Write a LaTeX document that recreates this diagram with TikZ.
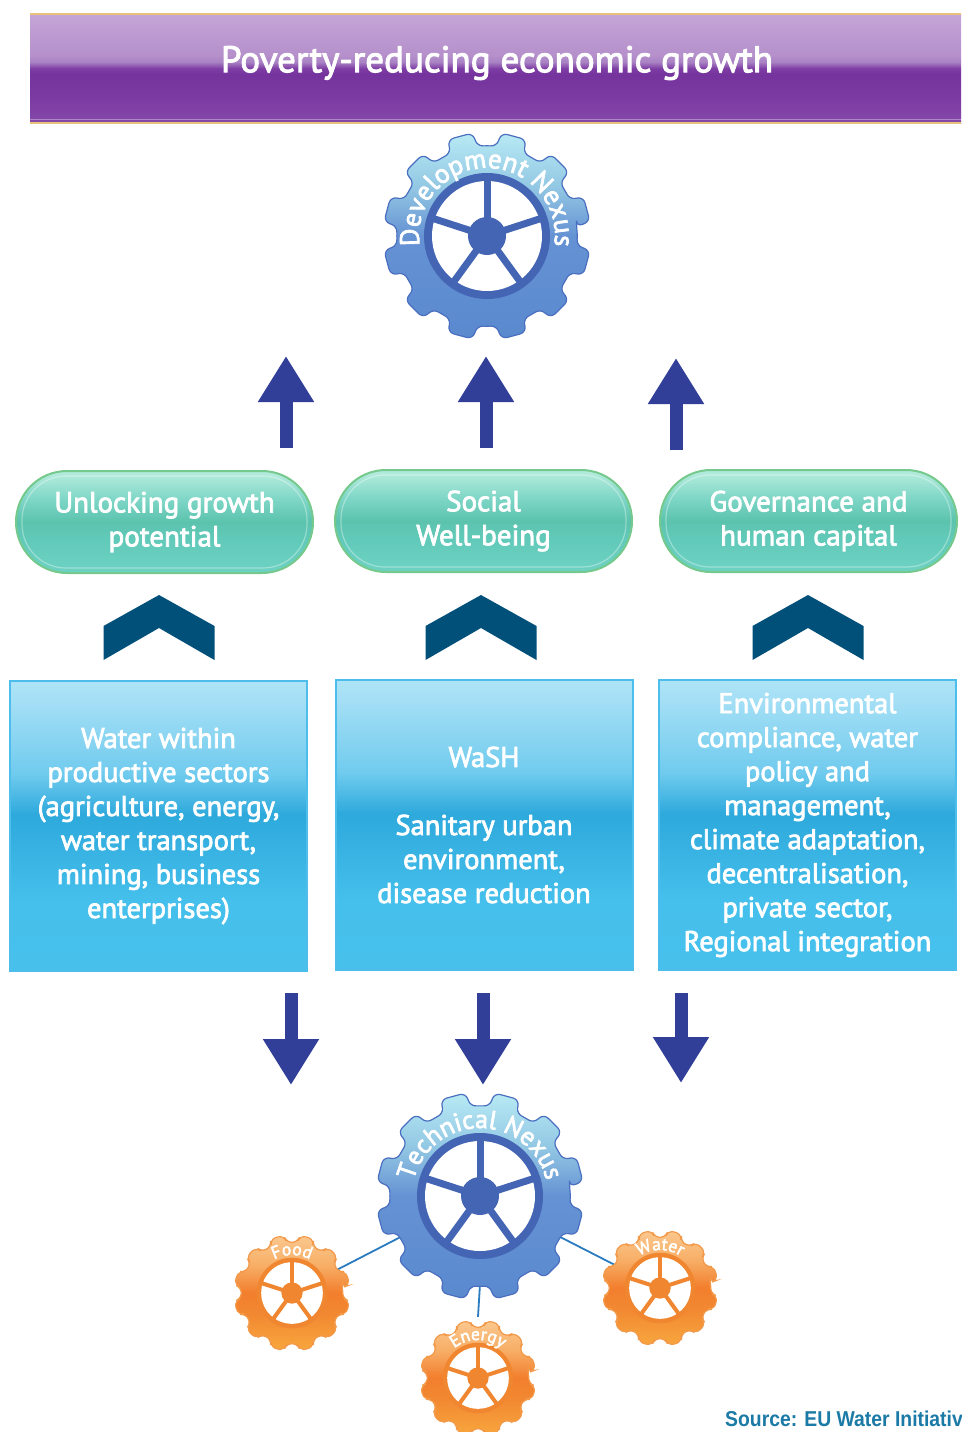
\documentclass[tikz,border=0pt]{standalone}
\usepackage{fontspec}
\setmainfont{PT Sans}[FakeBold=2.6]
\newfontfamily\srcfont{Liberation Sans}
\usetikzlibrary{arrows.meta,decorations.text}

\definecolor{arrowblue}{HTML}{313F99}
\definecolor{chev}{HTML}{00507A}
\definecolor{pillborder}{HTML}{76C98C}
\definecolor{boxborder}{HTML}{4DBDEB}
\definecolor{gearline}{HTML}{4B6FC0}
\definecolor{geardark}{HTML}{4464B4}
\definecolor{orline}{HTML}{F39A4A}
\definecolor{ordark}{HTML}{F08730}
\definecolor{linkblue}{HTML}{2A7BC0}
\definecolor{srcblue}{HTML}{1B7AA6}
\definecolor{gold}{HTML}{E8C27A}

\definecolor{ban1}{HTML}{8447A8}
\definecolor{ban2}{HTML}{7D3CA3}
\definecolor{ban3}{HTML}{75339D}
\definecolor{ban4}{HTML}{7D3DA3}
\definecolor{ban5}{HTML}{A982C4}
\definecolor{ban6}{HTML}{B590CB}
\definecolor{ban7}{HTML}{C5A5D8}
\pgfdeclareverticalshading{bannershade}{100bp}{color(0bp)=(ban1); color(26bp)=(ban1); color(35bp)=(ban2); color(47bp)=(ban3); color(50bp)=(ban4); color(53bp)=(ban5); color(56bp)=(ban6); color(75bp)=(ban7); color(100bp)=(ban7)}

\definecolor{box1}{HTML}{47C1EC}
\definecolor{box2}{HTML}{45BFEB}
\definecolor{box3}{HTML}{2EA9DC}
\definecolor{box4}{HTML}{70CBEE}
\definecolor{box5}{HTML}{A2DEF5}
\definecolor{box6}{HTML}{AEE4F7}
\pgfdeclareverticalshading{boxshade}{100bp}{color(0bp)=(box1); color(25bp)=(box1); color(37bp)=(box2); color(52bp)=(box3); color(59bp)=(box4); color(71bp)=(box5); color(75bp)=(box6); color(100bp)=(box6)}

\definecolor{pil1}{HTML}{6ED2C3}
\definecolor{pil2}{HTML}{62CABA}
\definecolor{pil3}{HTML}{5BC3AD}
\definecolor{pil4}{HTML}{7ED6C6}
\definecolor{pil5}{HTML}{B0EADB}
\pgfdeclareverticalshading{pillshade}{100bp}{color(0bp)=(pil1); color(25bp)=(pil1); color(41bp)=(pil2); color(50bp)=(pil3); color(61bp)=(pil4); color(73bp)=(pil5); color(100bp)=(pil5)}

\definecolor{gb1}{HTML}{5A89CF}
\definecolor{gb2}{HTML}{6592D3}
\definecolor{gb3}{HTML}{93C8E4}
\definecolor{gb4}{HTML}{B8EAF4}
\pgfdeclareverticalshading{blueshade}{100bp}{color(0bp)=(gb1); color(25bp)=(gb1); color(50bp)=(gb2); color(62bp)=(gb3); color(75bp)=(gb4); color(100bp)=(gb4)}

\definecolor{go1}{HTML}{F8A73E}
\definecolor{go2}{HTML}{F28A32}
\definecolor{go3}{HTML}{F27E2D}
\definecolor{go4}{HTML}{F7AE66}
\definecolor{go5}{HTML}{FBC88F}
\pgfdeclareverticalshading{orangeshade}{100bp}{color(0bp)=(go1); color(25bp)=(go1); color(40bp)=(go2); color(50bp)=(go3); color(62bp)=(go4); color(75bp)=(go5); color(100bp)=(go5)}

% #1 centre, #2 scale, #3 shading, #4 outline, #5 ring colour, #6 spoke width
\newcommand\gearbody[6]{%
\begin{scope}[shift={(#1)}, scale=#2]
  \shade[shading=#3, draw=#4, line width=1.2pt, rounded corners=6pt]
    (6:90) \foreach \a in {15,45,...,345}{ -- ({\a-7}:104) -- ({\a+7}:104) -- ({\a+9}:90) arc[start angle={\a+9}, end angle={\a+21}, radius=90] } -- cycle;
  \fill[#5] (0,0) circle[radius=63];
  \fill[white] (0,0) circle[radius=55];
  \foreach \s in {90,162,234,306,18} \draw[#5, line width=#6] (0,0) -- (\s:56);
  \fill[#5] (0,0) circle[radius=19];
\end{scope}}

\tikzset{
  upar/.style={arrowblue, line width=13pt, -{Triangle[width=53pt,length=46pt]}},
  pill/.style={shade, shading=pillshade, draw=pillborder, line width=2pt, rounded corners=51pt,
    minimum width=297pt, minimum height=102pt, text=white, align=center, inner sep=0pt,
    font=\fontsize{29}{34}\selectfont},
  bluebox/.style={shade, shading=boxshade, draw=boxborder, line width=2pt,
    minimum width=297pt, minimum height=290pt, text=white, align=center, inner sep=0pt,
    font=\fontsize{28.5}{34}\selectfont},
  chevron/.style={fill=chev},
  link/.style={linkblue, line width=1.8pt},
  hub/.style={circle, inner sep=0pt, draw=none},
}

\begin{document}
\begin{tikzpicture}[x=1pt, y=1pt]
\useasboundingbox (0,-1432) rectangle (961,0);
\clip (0,-1432) rectangle (961,0);
\fill[white] (0,-1432) rectangle (961,0);

% banner
\shade[shading=bannershade] (30,-14) rectangle (980,-123);
\draw[gold, line width=2pt] (30,-14) -- (980,-14);
\draw[gold, line width=2pt] (30,-123) -- (980,-123);
\draw[white, opacity=0.35, line width=1pt] (30,-119) -- (980,-119);
\node[text=white, font=\fontsize{37}{42}\selectfont] (banner) at (497,-63) {Poverty-reducing economic growth};

% development gear
\gearbody{487,-236}{1}{blueshade}{gearline}{geardark}{7pt}
\node[hub, minimum size=200pt] (dev) at (487,-236) {};
\path[decorate, decoration={text along path, text align=center,
  text={|\fontsize{27}{30}\selectfont\color{white}|Development Nexus}}]
  (487,-236) ++(188:68) arc[start angle=188, end angle=-8, radius=68];

% up arrows
\coordinate (u1s) at (286,-448); \coordinate (u1e) at (286,-356);
\coordinate (u2s) at (486,-448); \coordinate (u2e) at (486,-356);
\coordinate (u3s) at (676,-450); \coordinate (u3e) at (676,-358);
\draw[upar] (u1s) -- (u1e);
\draw[upar] (u2s) -- (u2e);
\draw[upar] (u3s) -- (u3e);

% pills
\node[pill] (p1) at (164.5,-522) {Unlocking growth\\potential};
\node[pill] (p2) at (483.5,-521) {Social\\Well-being};
\node[pill] (p3) at (808.5,-521) {Governance and\\human capital};
\foreach \p in {p1,p2,p3}
  \draw[white, opacity=0.35, line width=1.2pt, rounded corners=44pt]
    ([shift={(7,6)}]\p.south west) rectangle ([shift={(-7,-6)}]\p.north east);

% chevrons
\foreach \cx in {159,481,808}
  \fill[chevron] (\cx-55.5,-626) -- (\cx,-595) -- (\cx+55.5,-626) -- (\cx+55.5,-660) -- (\cx,-628) -- (\cx-55.5,-660) -- cycle;

% blue boxes
\node[bluebox] (b1) at (158.5,-826) {Water within\\productive sectors\\(agriculture, energy,\\water transport,\\mining, business\\enterprises)};
\node[bluebox] (b2) at (484,-825) {WaSH\\[34pt]Sanitary urban\\environment,\\disease reduction};
\node[bluebox] (b3) at (807.5,-825) {Environmental\\compliance, water\\policy and\\management,\\climate adaptation,\\decentralisation,\\private sector,\\Regional integration};

% down arrows
\coordinate (d1s) at (291,-993); \coordinate (d1e) at (291,-1085);
\coordinate (d2s) at (483,-993); \coordinate (d2e) at (483,-1085);
\coordinate (d3s) at (681,-993); \coordinate (d3e) at (681,-1083);
\draw[upar] (d1s) -- (d1e);
\draw[upar] (d2s) -- (d2e);
\draw[upar] (d3s) -- (d3e);

% technical nexus and connectors
\node[hub, minimum size=176pt] (tech) at (480,-1196) {};
\node[hub, minimum size=102pt] (food) at (292,-1293) {};
\node[hub, minimum size=100pt] (water) at (660,-1288) {};
\node[hub, minimum size=122pt] (energy) at (478,-1378) {};
\draw[link] (food) -- (tech);
\draw[link] (tech) -- (water);
\draw[link] (tech.south) -- (energy.north);

\gearbody{480,-1196}{1}{blueshade}{gearline}{geardark}{7pt}
\path[decorate, decoration={text along path, text align=center,
  text={|\fontsize{26}{30}\selectfont\color{white}|Technical Nexus}}]
  (480,-1196) ++(180:68) arc[start angle=180, end angle=0, radius=68];

\gearbody{292,-1293}{0.56}{orangeshade}{orline}{ordark}{4pt}
\gearbody{660,-1288}{0.56}{orangeshade}{orline}{ordark}{4pt}
\gearbody{478,-1378}{0.56}{orangeshade}{orline}{ordark}{4pt}
\path[decorate, decoration={text along path, text align=center,
  text={|\fontsize{17.5}{20}\selectfont\color{white}|Food}}]
  (292,-1293) ++(180:38) arc[start angle=180, end angle=0, radius=38];
\path[decorate, decoration={text along path, text align=center,
  text={|\fontsize{17.5}{20}\selectfont\color{white}|Water}}]
  (660,-1288) ++(180:38) arc[start angle=180, end angle=0, radius=38];
\path[decorate, decoration={text along path, text align=center,
  text={|\fontsize{17.5}{20}\selectfont\color{white}|Energy}}]
  (478,-1378) ++(180:38) arc[start angle=180, end angle=0, radius=38];

% source
\node[anchor=base west, inner sep=0pt, text=srcblue, font=\srcfont\bfseries\fontsize{21.5}{24}\selectfont] (src) at (725,-1426) {\scalebox{0.9}[1]{Source: EU Water Initiative}};
\end{tikzpicture}
\end{document}
